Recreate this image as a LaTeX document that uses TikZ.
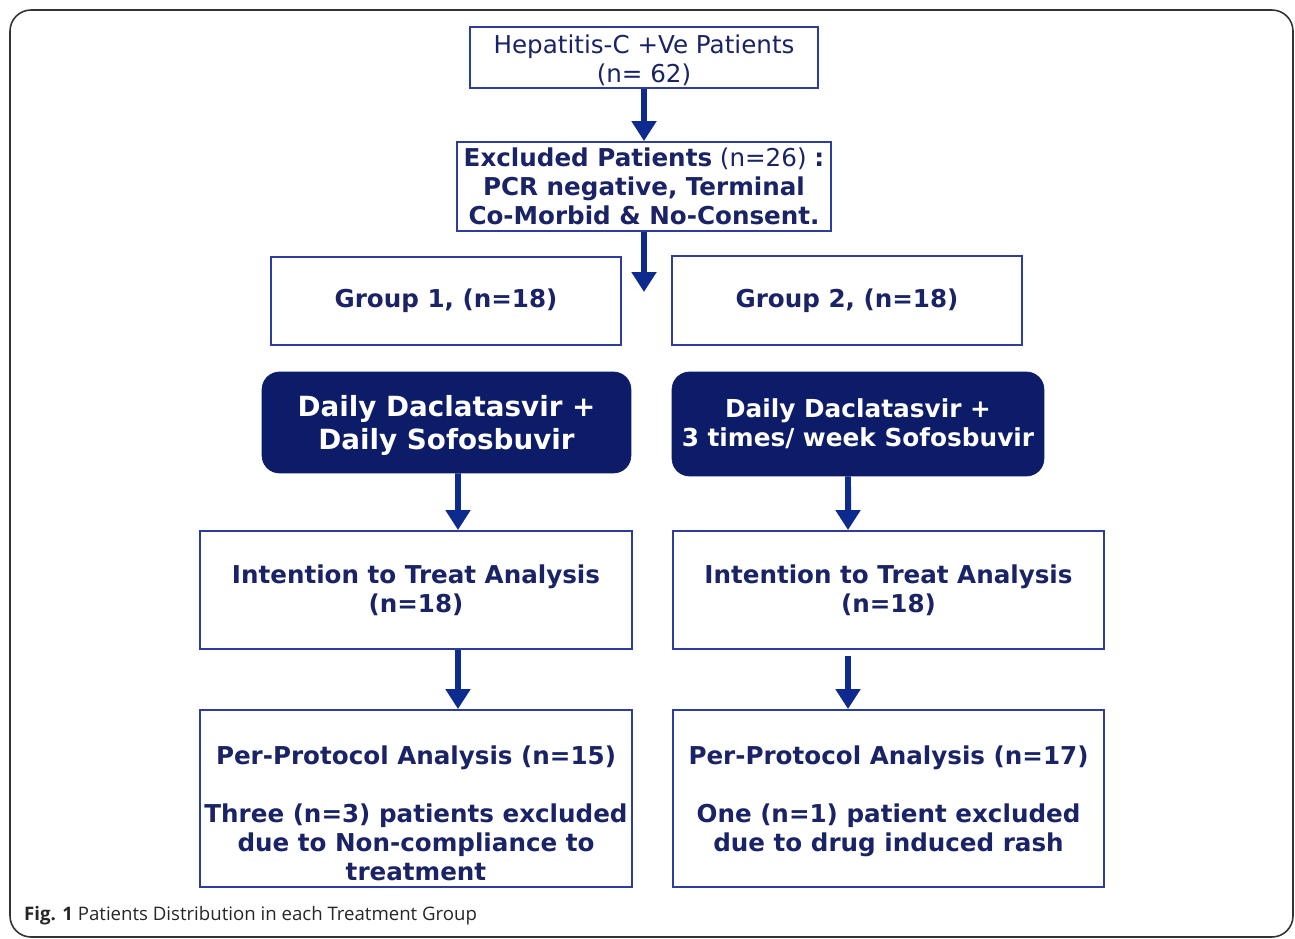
\documentclass[tikz,border=0pt]{standalone}
\usepackage{fontspec}
\setmainfont{DejaVu Sans}
\newfontfamily\capfont{Open Sans}
\usepackage{xcolor}
\usetikzlibrary{positioning,arrows.meta}
\definecolor{boxline}{HTML}{2E3C9C}
\definecolor{boxtext}{HTML}{1A2366}
\definecolor{darkfill}{HTML}{0C1C68}
\definecolor{arrowcol}{HTML}{0D2B8E}
\definecolor{framecol}{HTML}{333333}
\newcommand{\boxfont}{\fontsize{14}{16.5}\selectfont}
\tikzset{
  plain/.style={draw=boxline, line width=1.1pt, fill=white, align=center, text=boxtext, inner sep=1pt, font=\boxfont},
  boldbox/.style={plain, font=\bfseries\boxfont},
  dark/.style={draw=darkfill, fill=darkfill, rounded corners=10pt, align=center, text=white, font=\bfseries\fontsize{15.8}{19}\selectfont},
  flow/.style={-{Triangle[width=0.48cm,length=0.4cm]}, line width=3.4pt, draw=arrowcol}
}

\begin{document}
\begin{tikzpicture}[x=0.02cm, y=-0.02cm]
  \useasboundingbox (0,0) rectangle (1295,939);
  \draw[framecol, line width=0.9pt, rounded corners=12pt] (10,10) rectangle (1293,937);

  \node[plain, minimum width=6.96cm, minimum height=1.18cm] (total) at (644,57.5) {\rule{0pt}{0.5cm}Hepatitis-C +Ve Patients\\(n= 62)};
  \node[plain, minimum width=7.48cm, minimum height=1.78cm] (excl) at (644,186.5) {%
    \textbf{Excluded Patients} (n=26) \textbf{:}\\ \bfseries PCR negative, Terminal\\ \bfseries Co-Morbid \& No-Consent.};
  \coordinate (split) at (644,292);

  \node[boldbox, minimum width=7cm, minimum height=1.76cm] (grp1) at (446,301) {Group 1, (n=18)};
  \node[boldbox, minimum width=7cm, minimum height=1.78cm] (grp2) at (847,300.5) {Group 2, (n=18)};

  \node[dark, minimum width=7.38cm, minimum height=2.02cm] (daily1) at (446.5,422.5) {\rule{0pt}{0.55cm}Daily Daclatasvir +\\Daily Sofosbuvir};
  \node[dark, minimum width=7.44cm, minimum height=2.08cm, font=\bfseries\fontsize{14.1}{16.5}\selectfont] (daily2) at (858,424) {Daily Daclatasvir +\\3 times/ week Sofosbuvir};

  \node[boldbox, minimum width=8.64cm, minimum height=2.36cm] (itt1) at (416,590) {Intention to Treat Analysis\\(n=18)};
  \node[boldbox, minimum width=8.62cm, minimum height=2.36cm] (itt2) at (888.5,590) {Intention to Treat Analysis\\(n=18)};

  \node[boldbox, minimum width=8.64cm, minimum height=3.54cm] (pp1) at (416,798.5) {%
    \rule{0pt}{0.95cm}Per-Protocol Analysis (n=15)\\ \mbox{}\\Three (n=3) patients excluded\\due to Non-compliance to\\treatment};
  \node[boldbox, minimum width=8.62cm, minimum height=3.54cm] (pp2) at (888.5,798.5) {%
    \rule{0pt}{0.95cm}Per-Protocol Analysis (n=17)\\ \mbox{}\\One (n=1) patient excluded\\due to drug induced rash\\ \mbox{}};

  \draw[flow] (total.south) -- (excl.north);
  \draw[flow] (excl.south) -- (split);
  \draw[flow] ([xshift=0.23cm]daily1.south) -- ([xshift=0.84cm]itt1.north);
  \draw[flow] ([xshift=-0.2cm]daily2.south) -- ([xshift=-0.81cm]itt2.north);
  \draw[flow] ([xshift=0.84cm]itt1.south) -- ([xshift=0.84cm]pp1.north);
  \draw[flow] ([xshift=-0.81cm,yshift=-0.12cm]itt2.south) -- ([xshift=-0.81cm]pp2.north);

  \node[anchor=west, text=black!85, font=\capfont\fontsize{10.6}{12}\selectfont] (caption) at (18,916) {\textbf{Fig. 1} Patients Distribution in each Treatment Group};
\end{tikzpicture}
\end{document}
